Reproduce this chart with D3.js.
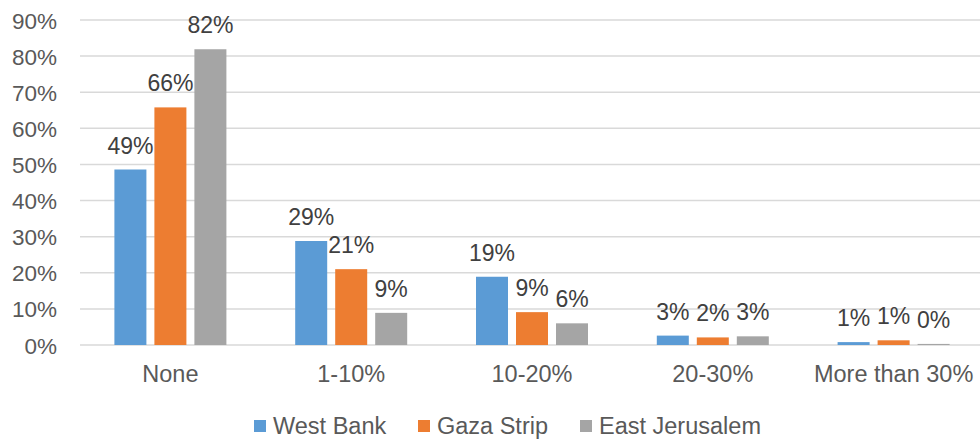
<!DOCTYPE html>
<html>
<head>
<meta charset="utf-8">
<script src="https://cdn.jsdelivr.net/npm/d3@7"></script>
<style>
  body { margin: 0; background: #fff; }
  svg text { font-family: "Liberation Sans", Arial, sans-serif; }
</style>
</head>
<body>
<div id="chart"></div>
<script>
"use strict";

// data
var categories = ["None", "1-10%", "10-20%", "20-30%", "More than 30%"];
var seriesNames = ["West Bank", "Gaza Strip", "East Jerusalem"];
var westBank = [48.6, 28.8, 18.9, 2.6, 0.8];
var gazaStrip = [65.8, 21.0, 9.1, 2.1, 1.3];
var eastJerusalem = [81.9, 8.9, 6.0, 2.4, 0.3];
var valueLabels = [
  ["49%", "29%", "19%", "3%", "1%"],
  ["66%", "21%", "9%", "2%", "1%"],
  ["82%", "9%", "6%", "3%", "0%"]
];
var yTicks = [0, 10, 20, 30, 40, 50, 60, 70, 80, 90];
var colors = ["#5b9bd5", "#ed7d31", "#a5a5a5"];

var width = 980, height = 441;
var plotLeft = 80, plotRight = 984, plotTop = 20, plotBottom = 345;

var svg = d3.select("#chart").append("svg")
  .attr("width", width)
  .attr("height", height);

var y = d3.scaleLinear().domain([0, 90]).range([plotBottom, plotTop]);

var x0 = d3.scaleBand().domain(categories).range([plotLeft, plotRight]).padding(0);

var x1 = d3.scaleBand().domain(seriesNames)
  .range([0, x0.bandwidth()])
  .paddingInner(0.2)
  .paddingOuter(0.86);

// gridlines
svg.append("g").selectAll("line")
  .data(yTicks)
  .enter().append("line")
  .attr("x1", plotLeft)
  .attr("x2", width)
  .attr("y1", function(d) { return y(d); })
  .attr("y2", function(d) { return y(d); })
  .attr("stroke", "#d9d9d9")
  .attr("stroke-width", 1.5);

// y axis labels
var yAxis = svg.append("g")
  .attr("transform", "translate(57,0)")
  .call(d3.axisLeft(y).tickValues(yTicks).tickSize(0).tickPadding(0)
    .tickFormat(function(d) { return d + "%"; }));
yAxis.select(".domain").remove();
yAxis.selectAll("text")
  .attr("dy", "0.36em")
  .style("font-size", "22.5px")
  .style("font-family", "'Liberation Sans', Arial, sans-serif")
  .attr("fill", "#595959");

// x axis labels
var xAxis = svg.append("g")
  .attr("transform", "translate(0," + plotBottom + ")")
  .call(d3.axisBottom(x0).tickSize(0).tickPadding(0));
xAxis.select(".domain").remove();
xAxis.selectAll("text")
  .attr("y", 0)
  .attr("dy", 37)
  .style("font-size", "23.5px")
  .style("font-family", "'Liberation Sans', Arial, sans-serif")
  .attr("fill", "#595959");

var allSeries = [westBank, gazaStrip, eastJerusalem];
var rows = [];
seriesNames.forEach(function(name, s) {
  categories.forEach(function(cat, i) {
    rows.push({ series: name, s: s, cat: cat, value: allSeries[s][i], label: valueLabels[s][i] });
  });
});

svg.append("g").selectAll("rect")
  .data(rows)
  .enter().append("rect")
  .attr("x", function(d) { return x0(d.cat) + x1(d.series); })
  .attr("y", function(d) { return y(d.value); })
  .attr("width", x1.bandwidth())
  .attr("height", function(d) { return plotBottom - y(d.value); })
  .attr("fill", function(d) { return colors[d.s]; });

svg.append("g").selectAll("text")
  .data(rows)
  .enter().append("text")
  .attr("x", function(d) { return x0(d.cat) + x1(d.series) + x1.bandwidth() / 2; })
  .attr("y", function(d) { return y(d.value) - 16; })
  .attr("text-anchor", "middle")
  .style("font-size", "23px")
  .attr("fill", "#404040")
  .text(function(d) { return d.label; });

// legend
var legendX = [254, 418, 580];
var legend = svg.append("g").selectAll("g")
  .data(seriesNames)
  .enter().append("g")
  .attr("transform", function(d, i) { return "translate(" + legendX[i] + ",420)"; });

legend.append("rect")
  .attr("width", 12)
  .attr("height", 12)
  .attr("fill", function(d, i) { return colors[i]; });

legend.append("text")
  .attr("x", 19)
  .attr("y", 14)
  .style("font-size", "23.5px")
  .attr("fill", "#595959")
  .text(function(d) { return d; });
</script>
</body>
</html>
